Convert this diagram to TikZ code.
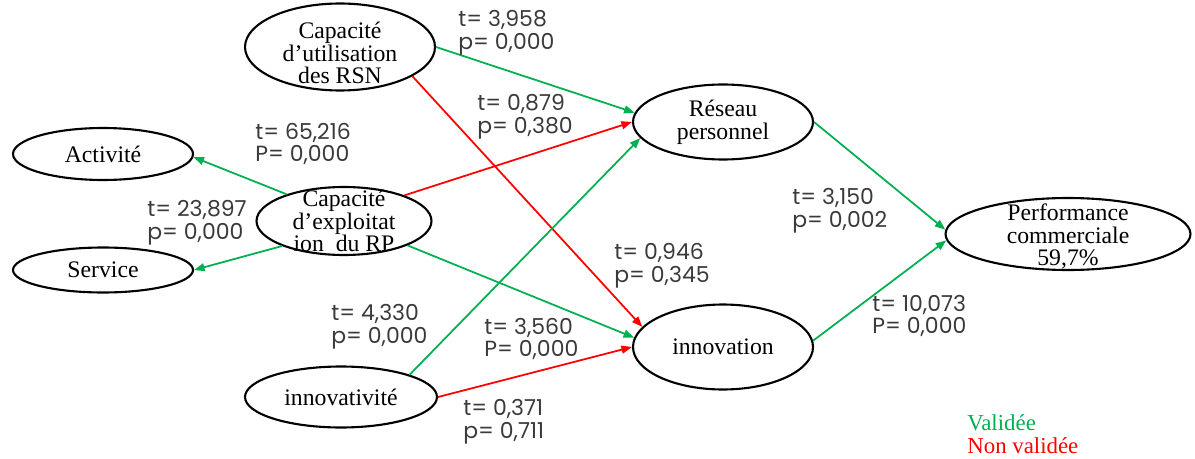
\documentclass[tikz,border=0pt]{standalone}
\usepackage{fontspec}
\setmainfont{Liberation Serif}
\newfontfamily\statfont{Poppins}
\usetikzlibrary{arrows.meta, shapes.geometric}
\definecolor{okgreen}{RGB}{0,176,80}
\definecolor{kored}{RGB}{255,0,0}
\definecolor{statgray}{RGB}{58,58,58}
\tikzset{
  var/.style={draw, ellipse, line width=1.2pt, inner sep=0pt},
  txt/.style={align=center, inner sep=0pt, font=\fontsize{13.5}{13}\selectfont},
  ok/.style={draw=okgreen, line width=1pt, -{Triangle[length=6pt,width=4.5pt]}},
  ko/.style={ok, draw=kored},
  stat/.style={anchor=west, align=left, inner sep=0pt, text=statgray,
               font=\statfont\fontsize{12.5}{13}\selectfont},
  legend/.style={anchor=north west, align=left, inner sep=0pt,
                 font=\fontsize{13}{13}\selectfont}
}

\begin{document}
\begin{tikzpicture}[x=0.02cm, y=-0.02cm]
  \useasboundingbox (0,0) rectangle (1195,459);

  % variables
  \node[var, minimum width=3.8cm, minimum height=1.74cm,
        label={[txt, yshift=-0.12cm]center:Capacité\\d’utilisation\\des RSN}] (rsn) at (340,47) {};
  \node[var, minimum width=3.6cm, minimum height=1.5cm,
        label={[txt]center:Réseau\\personnel}] (reseau) at (723,122) {};
  \node[var, minimum width=3.6cm, minimum height=1.04cm,
        label={[txt]center:Activité}] (activite) at (103,154) {};
  \node[var, minimum width=3.5cm, minimum height=1.36cm,
        label={[txt]center:Capacité\\d’exploitat\\ion~~du RP}] (exploit) at (344,221) {};
  \node[var, minimum width=3.6cm, minimum height=0.9cm,
        label={[txt]center:Service}] (service) at (103,270) {};
  \node[var, minimum width=4.9cm, minimum height=1.44cm,
        label={[txt, yshift=-0.05cm]center:Performance\\commerciale\\59,7\%}] (perf) at (1068,234) {};
  \node[var, minimum width=3.6cm, minimum height=1.7cm,
        label={[txt]center:innovation}] (innov) at (723,347) {};
  \node[var, minimum width=3.84cm, minimum height=1.22cm,
        label={[txt]center:innovativité}] (innovt) at (341,397) {};

  % paths
  \draw[ok] (rsn.0) -- (reseau.174);
  \draw[ko] (rsn.-22) -- (innov.166);
  \draw[ok] (exploit.155) -- (activite.-2);
  \draw[ok] (exploit.202) -- (service.0);
  \draw[ko] (exploit.23) -- (reseau.180);
  \draw[ok] (exploit.-21) -- (innov.174);
  \draw[ok] (innovt.18) -- (reseau.191);
  \draw[ko] (innovt.0) -- (innov.180);
  \draw[ok] (reseau.0) -- (perf.178);
  \draw[ok] (innov.4) -- (perf.183);

  % t and p values
  \node[stat] (s1) at (458,33) {t= 3,958\\p= 0,000};
  \node[stat] (s2) at (477,117) {t= 0,879\\p= 0,380};
  \node[stat] (s3) at (255,144) {t= 65,216\\P= 0,000};
  \node[stat] (s4) at (147,223) {t= 23,897\\p= 0,000};
  \node[stat] (s5) at (792,211) {t= 3,150\\p= 0,002};
  \node[stat] (s6) at (614,266) {t= 0,946\\p= 0,345};
  \node[stat] (s7) at (872,316) {t= 10,073\\P= 0,000};
  \node[stat] (s8) at (331,327) {t= 4,330\\p= 0,000};
  \node[stat] (s9) at (484,339) {t= 3,560\\P= 0,000};
  \node[stat] (s10) at (463,422) {t= 0,371\\p= 0,711};

  % legend
  \node[legend] (key) at (967,414) {\textcolor{okgreen}{Validée}\\\textcolor{kored}{Non validée}};
\end{tikzpicture}
\end{document}
